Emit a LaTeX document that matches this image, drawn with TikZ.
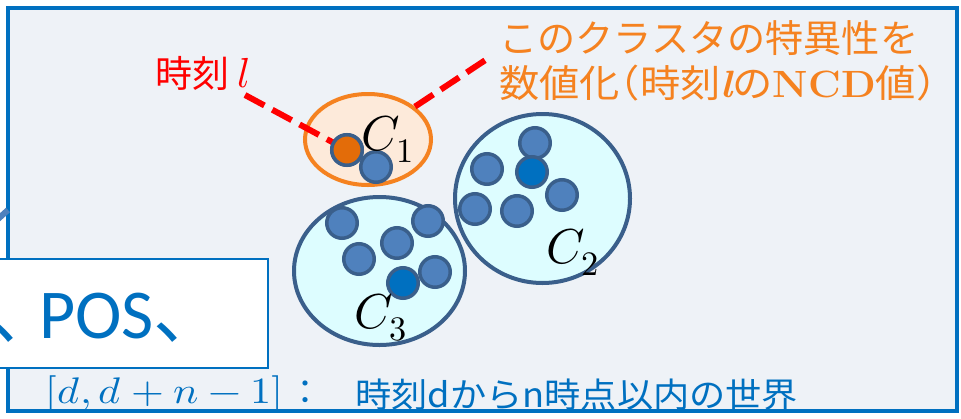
\documentclass[tikz,border=0pt]{standalone}
\usepackage{fontspec}
\usepackage{unicode-math}
\setmathfont{Latin Modern Math}
\usepackage{graphicx}
\usetikzlibrary{shapes.geometric}
\newfontfamily\jpfont{Noto Sans CJK JP}
\newfontfamily\calfont{Carlito}
\definecolor{framecol}{HTML}{0070C0}
\definecolor{bgcol}{HTML}{EEF2F7}
\definecolor{clborder}{HTML}{3A5F8B}
\definecolor{clfill}{HTML}{DDFDFF}
\definecolor{dotfill}{HTML}{4F81BD}
\definecolor{dotdark}{HTML}{0070C0}
\definecolor{orline}{HTML}{F58220}
\definecolor{orfill}{HTML}{FDEADA}
\definecolor{ordot}{HTML}{E36C09}
\definecolor{ortext}{HTML}{F58220}
\definecolor{redcol}{HTML}{FF0000}
\tikzset{
  framebox/.style={draw=framecol, line width=4pt, fill=bgcol},
  clusterbox/.style={ellipse, draw=clborder, line width=4pt, fill=clfill, inner sep=0pt},
  orcluster/.style={ellipse, draw=orline, line width=4pt, fill=orfill, inner sep=0pt},
  datadot/.style={circle, draw=clborder, line width=3.5pt, fill=dotfill, minimum size=30.5pt, inner sep=0pt},
  darkdot/.style={datadot, fill=dotdark},
  oranged/.style={datadot, fill=ordot},
  reddash/.style={draw=redcol, line width=6pt, dash pattern=on 22pt off 9pt},
  posbox/.style={draw=framecol, line width=2pt, fill=white, anchor=north west, inner sep=0pt},
  txt/.style={inner sep=0pt, anchor=base west},
}
\begin{document}
\begin{tikzpicture}[x=1pt,y=-1pt]
\useasboundingbox (0,0) rectangle (961,418);
\clip (0,0) rectangle (961,418);
\fill[white] (0,0) rectangle (961,418);
\draw[framebox] (8,8) rectangle (957,411);
% fragment of a connector coming from the left
\coordinate (fa) at (-2,219);
\coordinate (fb) at (8,210);
\draw[line width=6pt, dotfill] (fa) -- (fb);
% POS box
\node[posbox, minimum width=277pt, minimum height=109pt] (box) at (-10,258) {};
\node[txt, text=framecol, font=\fontsize{70}{70}\selectfont] (pos) at (-11,338) {{\jpfont 、}\kern-20pt{\calfont POS}{\jpfont 、}};
% clusters
\node[clusterbox, minimum width=171pt, minimum height=148pt] (c3) at (379.5,271) {};
\node[clusterbox, minimum width=175pt, minimum height=169pt] (c2) at (542.5,198.5) {};
\node[orcluster, minimum width=126pt, minimum height=91pt] (c1) at (368,139.5) {};
% red dashed connectors
\coordinate (la) at (245,95);
\coordinate (tb) at (487,59);
\node[oranged] (od) at (347,150) {};
\draw[reddash] (la) -- (od.center);
\draw[reddash] (c1.35) -- (tb);
% dots
\node[oranged] (od2) at (347,150) {};
\node[datadot] (d11) at (376,167) {};
\node[datadot] (d21) at (535,143) {};
\node[datadot] (d22) at (487,169) {};
\node[darkdot] (d23) at (532,172) {};
\node[datadot] (d24) at (562,195) {};
\node[datadot] (d25) at (475,209) {};
\node[datadot] (d26) at (517,211) {};
\node[datadot] (d31) at (342,223) {};
\node[datadot] (d32) at (428,221) {};
\node[datadot] (d33) at (397,243) {};
\node[datadot] (d34) at (359,259) {};
\node[datadot] (d35) at (435,272) {};
\node[darkdot] (d36) at (403,283) {};
% cluster labels
\node[txt, font=\fontsize{49}{49}\selectfont] (lc1) at (361,150) {$C_1$};
\node[txt, font=\fontsize{49}{49}\selectfont] (lc2) at (546,263) {$C_2$};
\node[txt, font=\fontsize{49}{49}\selectfont] (lc3) at (354,328) {$C_3$};
% red label
\node[txt, text=redcol, font=\jpfont\fontsize{37}{37}\selectfont] (lbl) at (155,87) {時刻 {\fontsize{42}{42}\selectfont$l$}};
% orange text
\node[txt, text=ortext, font=\jpfont\fontsize{38}{38}\selectfont] (t1) at (499,52) {\resizebox{419pt}{\height}{このクラスタの特異性を}};
\node[txt, text=ortext, font=\jpfont\fontsize{38}{38}\selectfont] (t2) at (499,97) {\resizebox{437pt}{\height}{数値化{\addfontfeatures{CharacterWidth=AlternateHalf}（}時刻{\rmfamily\bfseries\itshape l}の{\rmfamily\bfseries NCD}値{\addfontfeatures{CharacterWidth=AlternateHalf}）}}};
% bottom line
\node[txt, text=framecol, font=\fontsize{37}{37}\selectfont] (rng) at (45,403) {\resizebox{238pt}{\height}{$[d,d+n-1]$}};
\node[inner sep=0pt, anchor=base, text=framecol, font=\jpfont\fontsize{34}{34}\selectfont] (colon) at (305,404) {：};
\node[txt, text=framecol, font=\jpfont\fontsize{34}{34}\selectfont] (desc) at (355,407) {\resizebox{443pt}{\height}{時刻dからn時点以内の世界}};
\end{tikzpicture}
\end{document}
